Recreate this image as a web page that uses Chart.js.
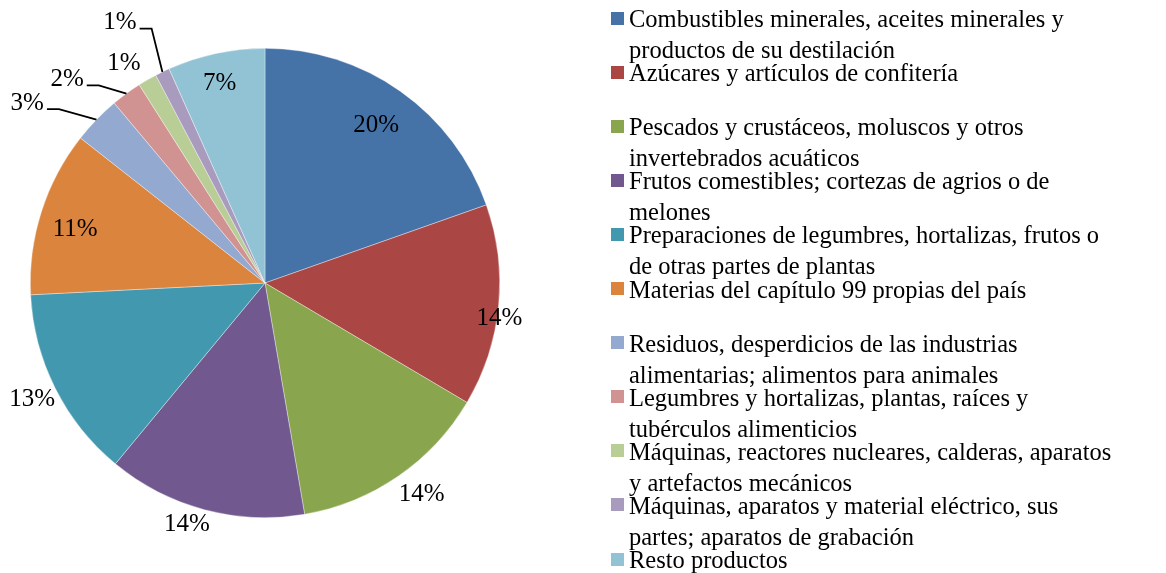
<!DOCTYPE html>
<html>
<head>
<meta charset="utf-8">
<script src="https://cdn.jsdelivr.net/npm/chart.js@4"></script>
<style>
    body { margin: 0; background: #fff; }
    #wrap { position: relative; width: 1166px; height: 573px; overflow: hidden; }
    #pieChart { position: absolute; left: 0; top: 0; }
    .legend-item {
        position: absolute;
        left: 629px;
        font-family: "Liberation Serif", "Times New Roman", serif;
        font-size: 24.5px;
        line-height: 31px;
        color: #000;
        white-space: nowrap;
    }
    .legend-box {
        position: absolute;
        left: -18px;
        top: 8.5px;
        width: 13px;
        height: 13px;
    }
</style>
</head>
<body>
<div id="wrap">
    <canvas id="pieChart" width="1166" height="573"></canvas>
    <div id="legend"></div>
</div>
<script>
const categories = [
    ['Combustibles minerales, aceites minerales y', 'productos de su destilación'],
    ['Azúcares y artículos de confitería'],
    ['Pescados y crustáceos, moluscos y otros', 'invertebrados acuáticos'],
    ['Frutos comestibles; cortezas de agrios o de', 'melones'],
    ['Preparaciones de legumbres, hortalizas, frutos o', 'de otras partes de plantas'],
    ['Materias del capítulo 99 propias del país'],
    ['Residuos, desperdicios de las industrias', 'alimentarias; alimentos para animales'],
    ['Legumbres y hortalizas, plantas, raíces y', 'tubérculos alimenticios'],
    ['Máquinas, reactores nucleares, calderas, aparatos', 'y artefactos mecánicos'],
    ['Máquinas, aparatos y material eléctrico, sus', 'partes; aparatos de grabación'],
    ['Resto productos']
];
const shares = [19.6, 13.9, 13.8, 13.7, 13.2, 11.4, 3.3, 2.1, 1.3, 1.0, 6.7];
const pctLabels = ['20%', '14%', '14%', '14%', '13%', '11%', '3%', '2%', '1%', '1%', '7%'];
const colors = ['#4572A7', '#AA4643', '#89A54E', '#71588F', '#4198AF', '#DB843D',
                '#93A9CF', '#D19392', '#B9CD96', '#A99BBD', '#92C3D4'];

// label placement: [angle shift in degrees, distance as fraction of radius, leader line?]
const labelPlace = [
    [0, 0.82, false], [3, 1.01, false], [-2, 1.12, false], [3, 1.08, false],
    [0, 1.11, false], [-2, 0.84, false], [-7, 1.27, true], [-8, 1.21, true],
    [-2.7, 1.11, false], [-3.2, 1.27, true], [-0.8, 0.87, false]
];

const pieLabels = {
    id: 'pieLabels',
    afterDatasetsDraw(chart) {
        const ctx = chart.ctx;
        const arcs = chart.getDatasetMeta(0).data;
        ctx.save();
        ctx.font = '25px "Liberation Serif", "Times New Roman", serif';
        ctx.fillStyle = '#000';
        ctx.textAlign = 'center';
        ctx.textBaseline = 'middle';
        arcs.forEach((arc, i) => {
            const p = arc.getProps(['x', 'y', 'startAngle', 'endAngle', 'outerRadius'], true);
            const mid = (p.startAngle + p.endAngle) / 2;
            const a = mid + labelPlace[i][0] * Math.PI / 180;
            const r = p.outerRadius * labelPlace[i][1];
            const lx = p.x + Math.cos(a) * r;
            const ly = p.y + Math.sin(a) * r;
            ctx.fillText(pctLabels[i], lx, ly);
            if (labelPlace[i][2]) {
                const w = ctx.measureText(pctLabels[i]).width;
                const sx = lx + w / 2 + 3;
                const sy = ly + 6;
                const ex = p.x + Math.cos(mid) * p.outerRadius;
                const ey = p.y + Math.sin(mid) * p.outerRadius;
                ctx.beginPath();
                ctx.strokeStyle = '#000';
                ctx.lineWidth = 1.8;
                ctx.moveTo(sx, sy);
                ctx.lineTo(sx + 12, sy);
                ctx.lineTo(ex, ey);
                ctx.stroke();
            }
        });
        ctx.restore();
    }
};

new Chart(document.getElementById('pieChart').getContext('2d'), {
    type: 'pie',
    data: {
        labels: categories,
        datasets: [{
            data: shares,
            backgroundColor: colors,
            borderColor: 'rgba(255,255,255,0.6)',
            borderWidth: 0.6
        }]
    },
    options: {
        responsive: false,
        animation: false,
        layout: { padding: { left: 30, top: 48, right: 666, bottom: 55 } },
        plugins: {
            legend: { display: false },
            tooltip: { enabled: false }
        }
    },
    plugins: [pieLabels]
});

// legend built from the same categories/colors
const legendEl = document.getElementById('legend');
categories.forEach((lines, i) => {
    const item = document.createElement('div');
    item.className = 'legend-item';
    item.style.top = (3 + i * 54.1) + 'px';
    const box = document.createElement('span');
    box.className = 'legend-box';
    box.style.background = colors[i];
    item.appendChild(box);
    lines.forEach((line, j) => {
        if (j > 0) item.appendChild(document.createElement('br'));
        item.appendChild(document.createTextNode(line));
    });
    legendEl.appendChild(item);
});
</script>
</body>
</html>
